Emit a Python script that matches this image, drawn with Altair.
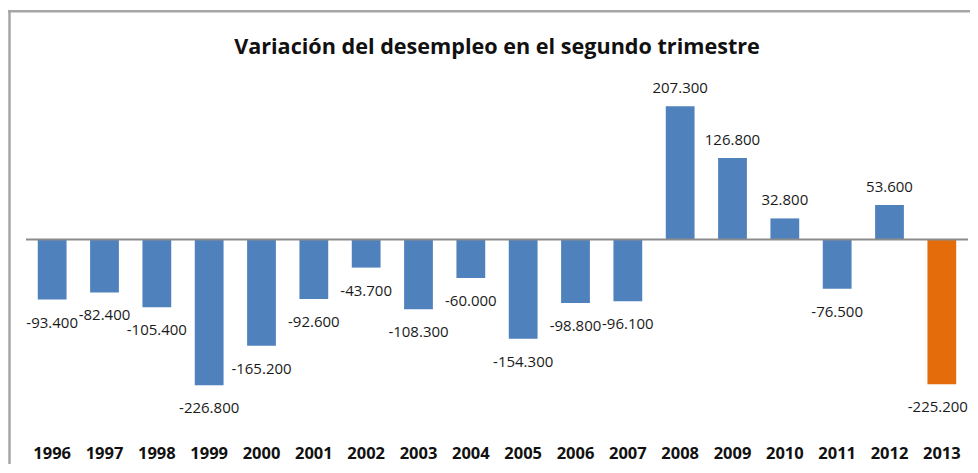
import altair as alt
import pandas as pd

years = ["1996", "1997", "1998", "1999", "2000", "2001", "2002", "2003", "2004",
         "2005", "2006", "2007", "2008", "2009", "2010", "2011", "2012", "2013"]
values = [-93400, -82400, -105400, -226800, -165200, -92600, -43700, -108300, -60000,
          -154300, -98800, -96100, 207300, 126800, 32800, -76500, 53600, -225200]

title_text = "Variación del desempleo en el segundo trimestre"
highlight_year = "2013"

df = pd.DataFrame({"year": years, "value": values})
df["label"] = [f"{v:,}".replace(",", ".") for v in values]

BLUE = "#4F81BD"
ORANGE = "#E46C0A"
FONT = "Open Sans"

x_enc = alt.X("year:N", sort=years,
              scale=alt.Scale(paddingInner=0.45, paddingOuter=0.225),
              axis=alt.Axis(title=None, domain=False, ticks=False, labelAngle=0,
                            labelFont=FONT, labelFontSize=16.5, labelFontWeight="bold",
                            labelColor="#111111", labelPadding=45, grid=False))
y_scale = alt.Scale(domain=[-250000, 250000])

base = alt.Chart(df)

bars = base.mark_bar().encode(
    x=x_enc,
    y=alt.Y("value:Q", scale=y_scale, axis=None),
    color=alt.condition(alt.datum.year == highlight_year, alt.value(ORANGE), alt.value(BLUE)),
)

text_enc = dict(x=alt.X("year:N", sort=years), y=alt.Y("value:Q", scale=y_scale), text="label:N")

labels_pos = base.transform_filter(alt.datum.value >= 0).mark_text(
    font=FONT, fontSize=15, color="#1a1a1a", baseline="middle", dy=-18
).encode(**text_enc)

labels_neg = base.transform_filter(
    (alt.datum.value < 0) & (alt.datum.year != highlight_year)
).mark_text(
    font=FONT, fontSize=15, color="#1a1a1a", baseline="middle", dy=23
).encode(**text_enc)

label_hl = base.transform_filter(alt.datum.year == highlight_year).mark_text(
    font=FONT, fontSize=15, color="#1a1a1a", baseline="middle", dy=23, dx=-4
).encode(**text_enc)

zero = alt.Chart(pd.DataFrame({"z": [0]})).mark_rule(color="#8c8c8c", strokeWidth=2.2).encode(
    y=alt.Y("z:Q", scale=y_scale), x=alt.value(0), x2=alt.value(942)
)

frame_top = alt.Chart(pd.DataFrame({"z": [0]})).mark_rule(color="#a6a6a6", strokeWidth=2.5).encode(
    x=alt.value(-18), x2=alt.value(960), y=alt.value(-67.5)
)
frame_left = alt.Chart(pd.DataFrame({"z": [0]})).mark_rule(color="#a6a6a6", strokeWidth=2.5).encode(
    x=alt.value(-16.5), y=alt.value(-68.5), y2=alt.value(400)
)

chart = alt.layer(frame_top, frame_left, bars, zero, labels_pos, labels_neg, label_hl).properties(
    width=942,
    height=321.5,
    title=alt.TitleParams(title_text, anchor="middle", font=FONT, fontSize=21.6,
                          fontWeight="bold", color="#111111", offset=-50),
    autosize=alt.AutoSizeParams(type="none"),
    padding={"left": 18, "top": 70.75, "right": 2, "bottom": 64},
).configure_view(stroke=None)

chart.save("out.html", embed_options={"renderer": "svg", "actions": False})
